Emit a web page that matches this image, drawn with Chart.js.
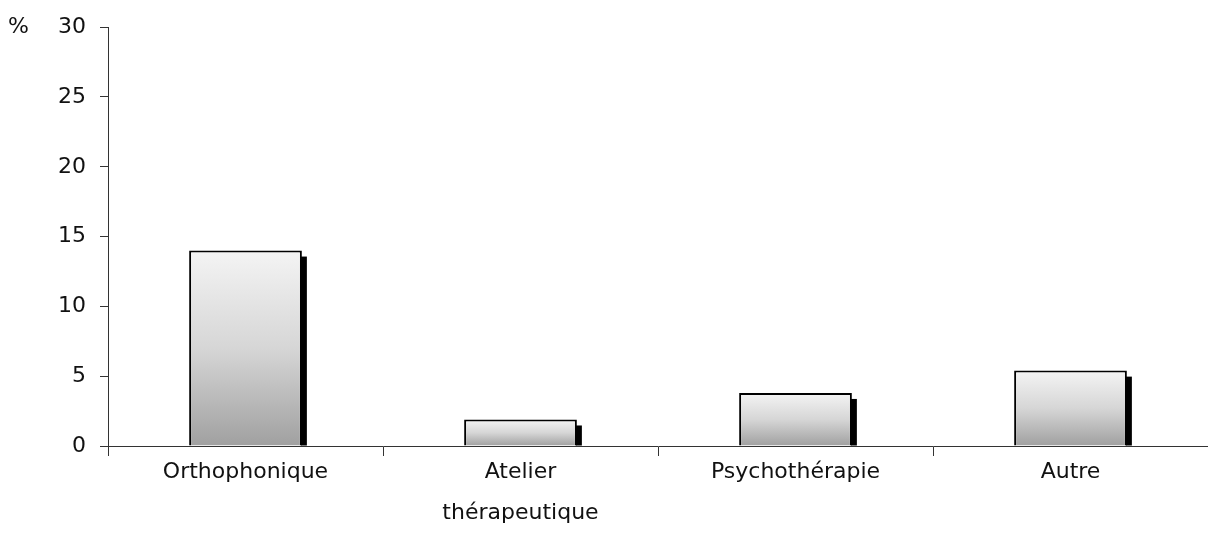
<!DOCTYPE html>
<html>
<head>
<meta charset="utf-8">
<script src="https://cdn.jsdelivr.net/npm/chart.js@4"></script>
<style>
  html, body { margin: 0; padding: 0; background: #fff; }
  #wrap { width: 1208px; height: 560px; }
</style>
</head>
<body>
<div id="wrap"><canvas id="chart"></canvas></div>
<script>
// data
const categories = ['Orthophonique', ['Atelier', 'thérapeutique'], 'Psychothérapie', 'Autre'];
const percentages = [14.0, 1.9, 3.8, 5.4];
const yMax = 30;
const yStep = 5;
const unitLabel = '%';

const FONT = { family: 'DejaVu Sans', size: 22 };

// black drop shadow on the right side of each bar
const shadowPlugin = {
  id: 'barShadow',
  beforeDatasetsDraw(chart) {
    const ctx = chart.ctx;
    ctx.save();
    ctx.fillStyle = '#000';
    chart.getDatasetMeta(0).data.forEach(bar => {
      let right = bar.x + bar.width / 2;
      ctx.fillRect(right - 1, bar.y + 6, 6, bar.base - bar.y - 6);
    });
    ctx.restore();
  }
};

// "%" written to the left of the top tick
const unitPlugin = {
  id: 'unitLabel',
  afterDraw(chart) {
    const ctx = chart.ctx;
    let y = chart.scales.y.getPixelForValue(yMax);
    ctx.save();
    ctx.font = FONT.size + 'px ' + FONT.family;
    ctx.fillStyle = '#111';
    ctx.textAlign = 'left';
    ctx.textBaseline = 'middle';
    ctx.fillText(unitLabel, 8, y);
    ctx.restore();
  }
};

function barFill(context) {
  const chart = context.chart;
  if (!chart.chartArea || context.type !== 'data') return '#ccc';
  let yScale = chart.scales.y;
  let top = yScale.getPixelForValue(context.parsed.y);
  let bottom = yScale.getPixelForValue(0);
  if (!isFinite(top) || !isFinite(bottom) || top === bottom) return '#ccc';
  let g = chart.ctx.createLinearGradient(0, top, 0, bottom);
  g.addColorStop(0, '#f4f4f4');
  g.addColorStop(0.5, '#d6d6d6');
  g.addColorStop(1, '#a0a0a0');
  return g;
}

new Chart(document.getElementById('chart'), {
  type: 'bar',
  data: {
    labels: categories,
    datasets: [{
      data: percentages,
      backgroundColor: barFill,
      borderColor: '#000',
      borderWidth: 2,
      borderSkipped: 'bottom',
      barPercentage: 1,
      categoryPercentage: 0.41
    }]
  },
  options: {
    responsive: true,
    maintainAspectRatio: false,
    animation: false,
    layout: { padding: { top: 27, right: 0, left: 0, bottom: 0 } },
    plugins: {
      legend: { display: false },
      tooltip: { enabled: false }
    },
    scales: {
      x: {
        type: 'category',
        offset: true,
        grid: { offset: true, drawOnChartArea: false, tickLength: 10, color: '#333', lineWidth: 1 },
        border: { color: '#333', width: 1 },
        ticks: {
          font: Object.assign({}, FONT, { lineHeight: 1.9 }),
          color: '#111', padding: -5, maxRotation: 0, autoSkip: false
        },
        afterFit(scale) { scale.height = 114; }
      },
      y: {
        min: 0,
        max: yMax,
        grid: { drawOnChartArea: false, tickLength: 8, color: '#333', lineWidth: 1 },
        border: { color: '#333', width: 1 },
        ticks: { stepSize: yStep, font: FONT, color: '#111', padding: 14 },
        afterFit(scale) { scale.width = 108; }
      }
    }
  },
  plugins: [shadowPlugin, unitPlugin]
});
</script>
</body>
</html>
